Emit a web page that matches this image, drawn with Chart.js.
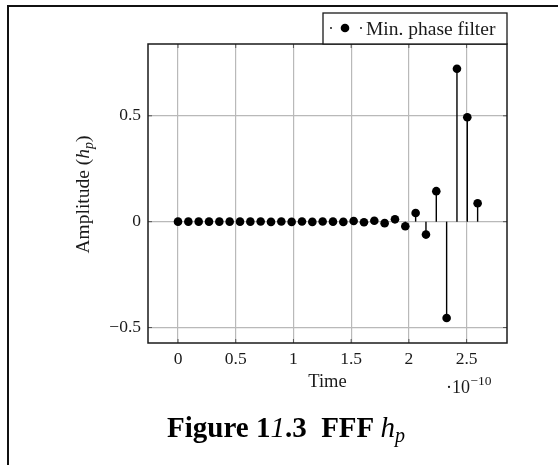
<!DOCTYPE html>
<html>
<head>
<meta charset="utf-8">
<script src="https://cdn.jsdelivr.net/npm/chart.js@4"></script>
<style>
  html, body { margin: 0; padding: 0; background: #fff; }
  #page { position: relative; width: 558px; height: 465px; overflow: hidden; }
  #frame {
    position: absolute; left: 7px; top: 5px; right: -10px; bottom: -10px;
    border-left: 2px solid #111; border-top: 2px solid #111;
  }
  #plot { position: absolute; left: 0; top: 0; }
  #caption {
    position: absolute; left: 0; top: 413px; width: 572px;
    text-align: center; white-space: pre;
    font: bold 29px "Liberation Serif", serif; line-height: 28px; color: #000;
  }
  #caption .n { font-style: italic; font-weight: normal; }
  #caption .m { font-style: italic; font-weight: normal; }
  #caption sub { font-size: 20px; line-height: 0; vertical-align: -5px; }
</style>
</head>
<body>
<div id="page">
  <div id="frame"></div>
  <canvas id="plot" width="558" height="465"></canvas>
  <div id="caption">Figure 1<span class="n">1</span>.3  FFF <span class="m">h<sub>p</sub></span></div>
</div>
<script>
// sample instants, in units of 1e-10 s
const timeE10 = [0, 0.0895, 0.179, 0.2685, 0.358, 0.4475, 0.537, 0.6265, 0.716, 0.8055,
                 0.895, 0.9845, 1.074, 1.1635, 1.253, 1.3425, 1.432, 1.5215, 1.611, 1.7005,
                 1.79, 1.8795, 1.969, 2.0585, 2.148, 2.2375, 2.327, 2.4165, 2.506, 2.5955];
// minimum phase filter taps h_p
const amplitude = [0, 0, 0, 0, 0, 0, 0, 0, 0.001, -0.001,
                   0.001, -0.001, 0.001, -0.001, 0.001, 0, -0.001, 0.003, -0.003, 0.004,
                   -0.007, 0.011, -0.022, 0.041, -0.061, 0.144, -0.455, 0.722, 0.493, 0.087];
const xTicks = [0, 0.5, 1, 1.5, 2, 2.5];
const yTicks = [-0.5, 0, 0.5];
const seriesName = 'Min. phase filter';

const serif = '"Liberation Serif", serif';
const fmt = v => String(v).replace('-', '\u2212');

// vertical stems from zero up/down to each tap
const stems = {
    id: 'stems',
    beforeDatasetsDraw(chart) {
        const ctx = chart.ctx;
        const y0 = chart.scales.y.getPixelForValue(0);
        ctx.save();
        ctx.strokeStyle = '#000';
        ctx.lineWidth = 1.4;
        chart.getDatasetMeta(0).data.forEach(pt => {
            ctx.beginPath();
            ctx.moveTo(pt.x, y0);
            ctx.lineTo(pt.x, pt.y);
            ctx.stroke();
        });
        ctx.restore();
    }
};

// box frame, inner tick marks, y label, exponent and legend
const decor = {
    id: 'decor',
    afterDraw(chart) {
        const ctx = chart.ctx;
        const a = chart.chartArea;
        const xs = chart.scales.x, ys = chart.scales.y;
        ctx.save();

        ctx.strokeStyle = '#555';
        ctx.lineWidth = 1;
        xTicks.forEach(v => {
            const px = xs.getPixelForValue(v);
            ctx.beginPath();
            ctx.moveTo(px, a.bottom); ctx.lineTo(px, a.bottom - 4);
            ctx.moveTo(px, a.top); ctx.lineTo(px, a.top + 4);
            ctx.stroke();
        });
        yTicks.forEach(v => {
            const py = ys.getPixelForValue(v);
            ctx.beginPath();
            ctx.moveTo(a.left, py); ctx.lineTo(a.left + 4, py);
            ctx.moveTo(a.right, py); ctx.lineTo(a.right - 4, py);
            ctx.stroke();
        });

        ctx.strokeStyle = '#1a1a1a';
        ctx.lineWidth = 1.5;
        ctx.strokeRect(a.left, a.top, a.right - a.left, a.bottom - a.top);

        // y axis label: Amplitude (h_p)
        ctx.fillStyle = '#1a1a1a';
        ctx.textBaseline = 'alphabetic';
        const parts = [
            ['Amplitude (', '19.5px ' + serif, 0],
            ['h', 'italic 19.5px ' + serif, 0],
            ['p', 'italic 14px ' + serif, 4],
            [')', '19.5px ' + serif, 0]
        ];
        let total = 0;
        parts.forEach(p => { ctx.font = p[1]; total += ctx.measureText(p[0]).width; });
        ctx.translate(89, (a.top + a.bottom) / 2 + 1);
        ctx.rotate(-Math.PI / 2);
        let cx = -total / 2;
        parts.forEach(p => {
            ctx.font = p[1];
            ctx.fillText(p[0], cx, p[2]);
            cx += ctx.measureText(p[0]).width;
        });
        ctx.setTransform(1, 0, 0, 1, 0, 0);

        // exponent of the time axis
        ctx.font = '18px ' + serif;
        ctx.textAlign = 'left';
        ctx.fillText('\u00b710', 446, 393);
        const w = ctx.measureText('\u00b710').width;
        ctx.font = '13.5px ' + serif;
        ctx.fillText('\u221210', 446 + w + 0.5, 385);

        // legend box
        const lx = 323, ly = 13, lw = a.right - lx, lh = a.top - ly;
        ctx.fillStyle = '#fff';
        ctx.fillRect(lx, ly, lw, lh);
        ctx.strokeStyle = '#1a1a1a';
        ctx.lineWidth = 1.3;
        ctx.strokeRect(lx, ly, lw, lh);
        ctx.fillStyle = '#000';
        const my = ly + 15;
        [[331, 0.9], [361, 0.9], [345, 4.3]].forEach(d => {
            ctx.beginPath();
            ctx.arc(d[0], my, d[1], 0, Math.PI * 2);
            ctx.fill();
        });
        ctx.fillStyle = '#1a1a1a';
        ctx.font = '19.5px ' + serif;
        ctx.fillText(seriesName, 366, ly + 21.5);
        ctx.restore();
    }
};

new Chart(document.getElementById('plot'), {
    type: 'scatter',
    data: {
        datasets: [{
            label: seriesName,
            data: timeE10.map((t, i) => ({ x: t, y: amplitude[i] })),
            backgroundColor: '#000',
            borderWidth: 0,
            pointRadius: 4.3,
            pointHoverRadius: 4.3,
            showLine: false
        }]
    },
    options: {
        responsive: false,
        devicePixelRatio: 1,
        animation: false,
        layout: { padding: { left: 0, top: 44, right: 51, bottom: 0 } },
        plugins: { legend: { display: false }, tooltip: { enabled: false } },
        scales: {
            x: {
                type: 'linear',
                min: -0.26,
                max: 2.85,
                afterBuildTicks: s => { s.ticks = xTicks.map(v => ({ value: v })); },
                afterFit: s => { s.height = 122; },
                border: { display: false },
                grid: { color: '#b9b9b9', lineWidth: 1.2, drawTicks: false },
                ticks: {
                    padding: 6,
                    color: '#1a1a1a',
                    font: { family: serif, size: 17.5 },
                    callback: v => fmt(v)
                },
                title: {
                    display: true,
                    text: 'Time',
                    color: '#1a1a1a',
                    font: { family: serif, size: 18.5 },
                    padding: { top: 0, bottom: 72 }
                }
            },
            y: {
                min: -0.573,
                max: 0.839,
                afterBuildTicks: s => { s.ticks = yTicks.map(v => ({ value: v })); },
                afterFit: s => { s.width = 148; },
                border: { display: false },
                grid: { color: '#b9b9b9', lineWidth: 1.2, drawTicks: false },
                ticks: {
                    padding: 7,
                    color: '#1a1a1a',
                    font: { family: serif, size: 17.5 },
                    callback: v => fmt(v)
                }
            }
        }
    },
    plugins: [stems, decor]
});
</script>
</body>
</html>
